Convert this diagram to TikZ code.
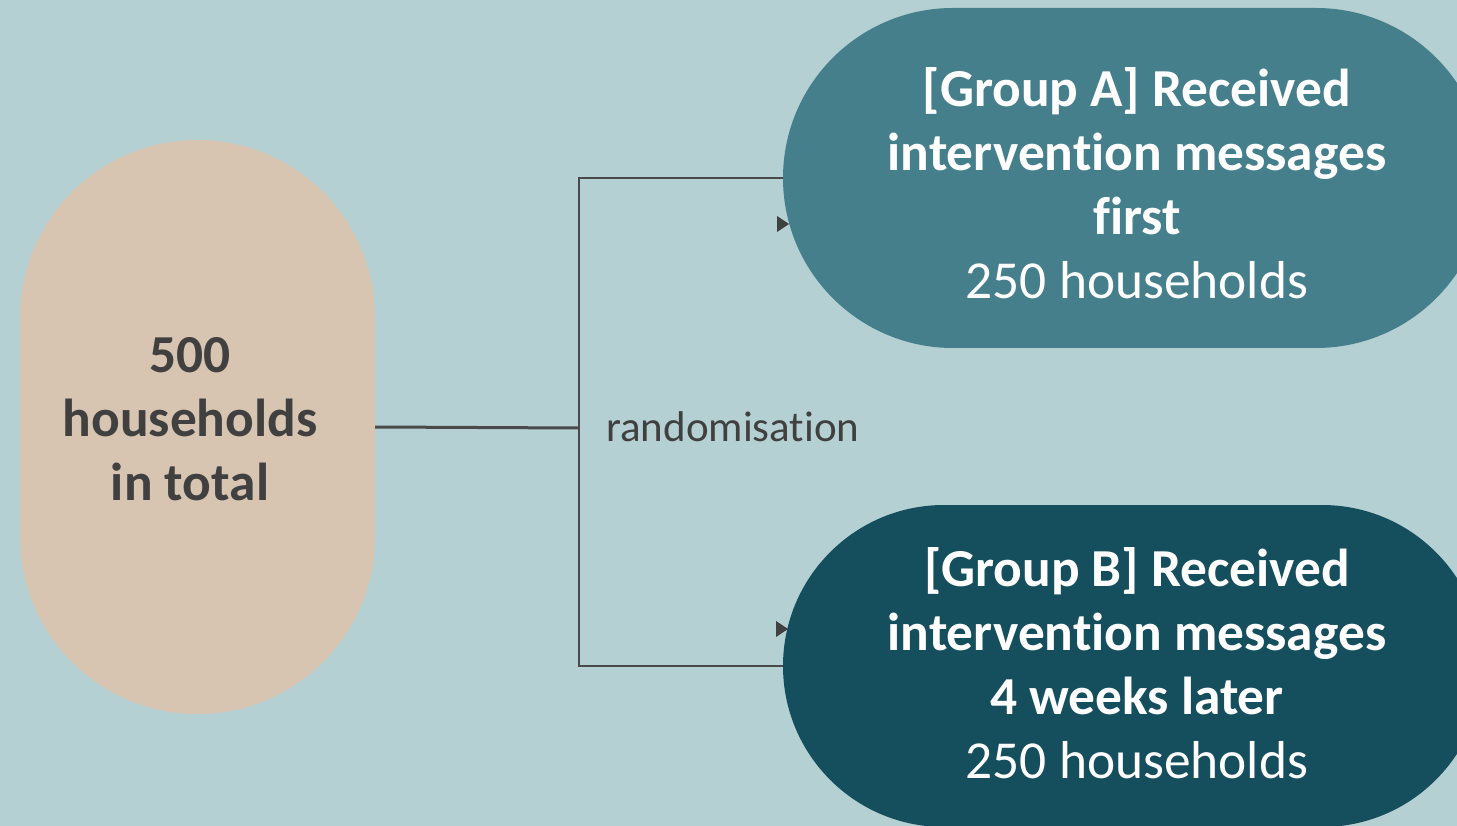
\documentclass[tikz,border=0pt]{standalone}
\usepackage{fontspec}
\setmainfont{Carlito}[Ligatures=NoCommon]
\definecolor{bg}{HTML}{B5D0D2}
\definecolor{grpA}{HTML}{467F8C}
\definecolor{grpB}{HTML}{154E5C}
\definecolor{beige}{HTML}{D7C4B1}
\definecolor{ink}{HTML}{404040}
\definecolor{wire}{HTML}{4A4A4A}
\tikzset{
  pill/.style={draw=none, inner sep=0pt, align=center},
  bigtext/.style={align=center, inner sep=0pt, font=\fontsize{53.4}{64}\selectfont},
  wirestyle/.style={draw=wire, line width=1.8pt},
  tipstyle/.style={fill=ink, draw=none}
}
\begin{document}
\begin{tikzpicture}[x=1pt,y=-1pt]
\useasboundingbox (0,0) rectangle (1457,826);
\clip (0,0) rectangle (1457,826);
\fill[bg] (0,0) rectangle (1457,826);
\node[pill, fill=beige, minimum width=355pt, minimum height=574pt, rounded corners=177.5pt] (tot) at (197.5,427) {};
\node[bigtext, text=ink, font=\fontsize{53.4}{64}\selectfont\bfseries] (totl) at (190,419) {500\\households\\in total};
\node[pill, fill=grpA, minimum width=703pt, minimum height=340pt, rounded corners=170pt] (A) at (1134.5,178) {};
\node[bigtext, text=white] (Al) at (1137,183) {\bfseries [Group A] Received\\\bfseries intervention messages\\\bfseries first\\250 households};
\node[pill, fill=grpB, minimum width=700pt, minimum height=322pt, rounded corners=161pt] (B) at (1133,666) {};
\node[bigtext, text=white] (Bl) at (1137,663) {\bfseries [Group B] Received\\\bfseries intervention messages\\\bfseries 4 weeks later\\250 households};
\coordinate (j) at (579,428);
\draw[wirestyle, line width=3pt] (tot.east) -- (j);
\draw[wirestyle] (A.west) -| (j) |- (B.west);
\node[anchor=west, text=ink, font=\fontsize{43}{50}\selectfont, inner sep=0pt] (rnd) at (606,427) {randomisation};
\fill[tipstyle] (777,216) -- (789,224) -- (777,232) -- cycle;
\fill[tipstyle] (776,621) -- (788,629) -- (776,637) -- cycle;
\end{tikzpicture}
\end{document}
